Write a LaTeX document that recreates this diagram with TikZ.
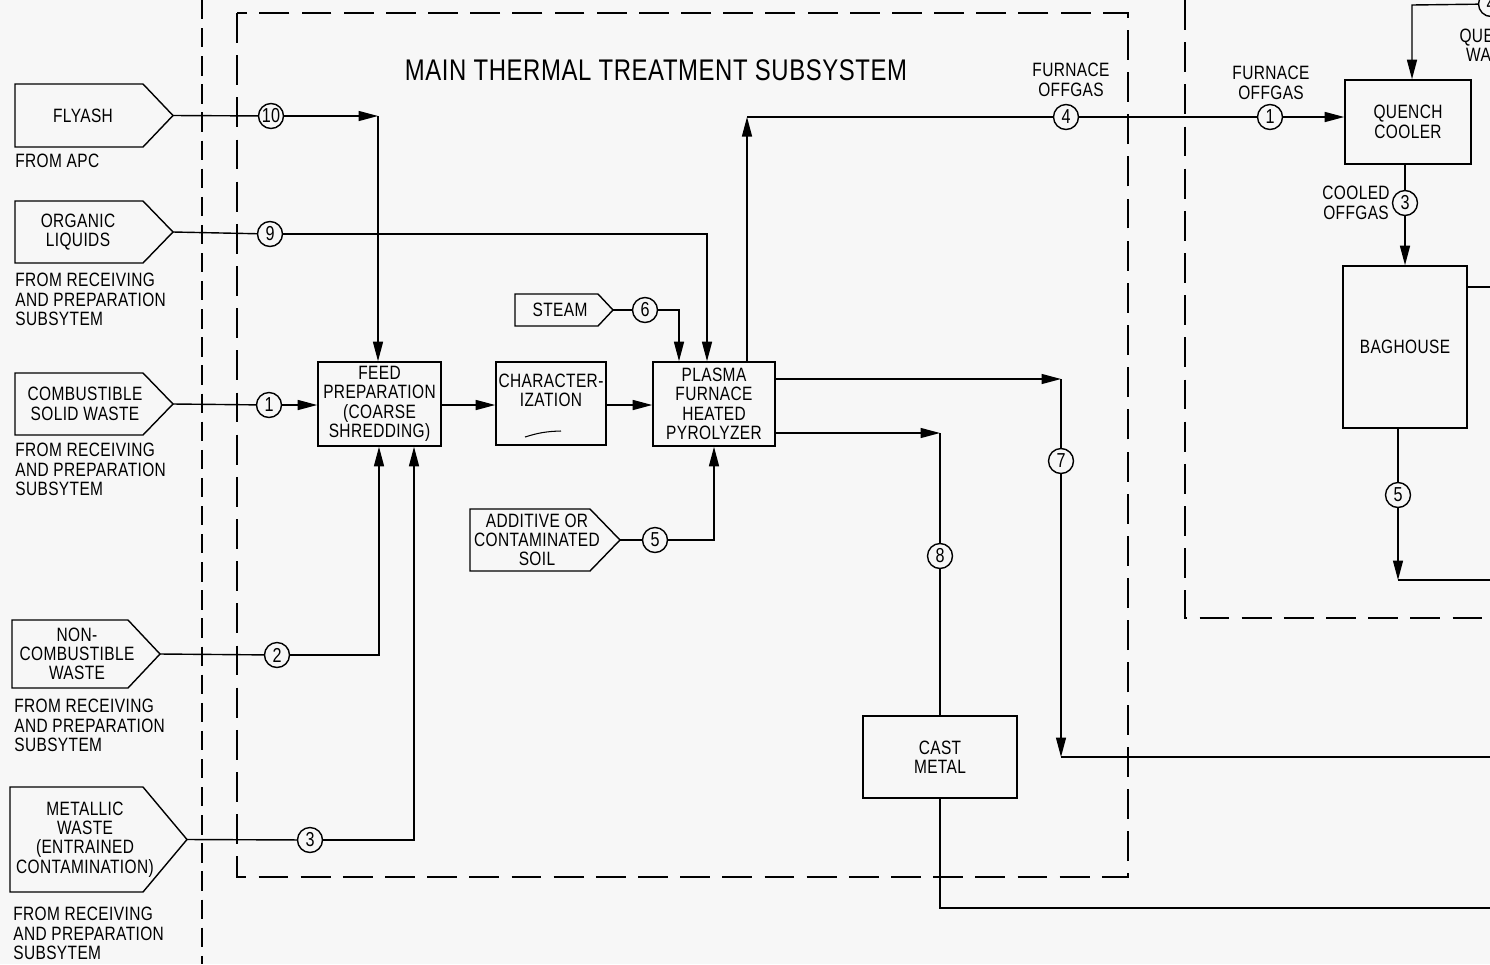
\documentclass[tikz,border=0pt]{standalone}
\usepackage{fontspec}
\setmainfont{Liberation Sans}[FakeStretch=0.8,LetterSpace=2]
\usetikzlibrary{arrows.meta,calc}
\definecolor{paper}{RGB}{247,247,247}
\tikzset{
  box/.style={draw=black,line width=0.9pt,align=center,inner sep=0pt,font=\fontsize{11}{11}\selectfont},
  src/.style={draw=black,line width=0.8pt},                   % source pentagon
  lbl/.style={align=center,inner sep=0pt,font=\fontsize{11}{11}\selectfont},
  note/.style={align=left,inner sep=0pt,anchor=north west,font=\fontsize{11}{11}\selectfont},
  num/.style={circle,draw=black,line width=0.8pt,inner sep=0pt,minimum size=0.5cm,font=\fontsize{11.5}{11}\selectfont},
  pipe/.style={line width=0.8pt},
  arr/.style={-{Triangle[length=3.9mm,width=2mm]},line width=0.8pt},
  sub/.style={line width=0.9pt,dash pattern=on 17pt off 7pt},
  bnd/.style={line width=0.8pt,dash pattern=on 11pt off 5pt},
}
% name, left x, top y, rect right x, tip x, bottom y, text x, text
\newcommand{\srcbox}[8]{%
  \draw[src] (#2,#3) -- (#4,#3) -- (#5,{(#3+#6)/2}) -- (#4,#6) -- (#2,#6) -- cycle;
  \node[lbl] (#1) at (#7,{(#3+#6)/2}) {#8};
  \coordinate (#1-tip) at (#5,{(#3+#6)/2});
}

\begin{document}
\begin{tikzpicture}[x=0.02cm,y=-0.02cm]
  \fill[paper] (0,0) rectangle (1490,964);
  \useasboundingbox (0,0) rectangle (1490,964);

  % boundaries
  \draw[bnd] (202,0) -- (202,964);
  \draw[sub] (237,13) rectangle (1128,877);
  \draw[sub] (1185,0) -- (1185,618) -- (1490,618);
  \node[lbl,font=\fontsize{17}{20}\selectfont] (title) at (656,70) {MAIN THERMAL TREATMENT SUBSYSTEM};

  % sources
  \srcbox{flyash}{15}{84}{143}{173}{147}{83}{FLYASH}
  \srcbox{organic}{15}{201}{143}{173}{263}{78}{ORGANIC\\LIQUIDS}
  \srcbox{comb}{15}{373}{143}{173}{435}{85}{COMBUSTIBLE\\SOLID WASTE}
  \srcbox{noncomb}{12}{620}{128}{160}{688}{77}{NON-\\COMBUSTIBLE\\WASTE}
  \srcbox{metal}{10}{787}{143}{187}{892}{85}{METALLIC\\WASTE\\(ENTRAINED\\CONTAMINATION)}
  \srcbox{steam}{515}{294}{598}{613}{326}{560}{STEAM}
  \srcbox{additive}{470}{509}{590}{620}{571}{537}{ADDITIVE OR\\CONTAMINATED\\SOIL}

  \node[lbl,anchor=west] (fromapc) at (15,161) {FROM APC};
  \node[note] (fromorg) at (15,273) {FROM RECEIVING\\AND PREPARATION\\SUBSYTEM};
  \node[note] (fromcomb) at (15,443) {FROM RECEIVING\\AND PREPARATION\\SUBSYTEM};
  \node[note] (fromnon) at (14,699) {FROM RECEIVING\\AND PREPARATION\\SUBSYTEM};
  \node[note] (frommetal) at (13,907) {FROM RECEIVING\\AND PREPARATION\\SUBSYTEM};

  % process boxes
  \node[box,minimum width=2.46cm,minimum height=1.68cm] (feed) at (379.5,404) {FEED\\PREPARATION\\(COARSE\\SHREDDING)};
  \node[box,minimum width=2.2cm,minimum height=1.66cm] (char) at (551,403.5) {CHARACTER-\\IZATION\\[4pt]};
  \draw[pipe,line width=0.6pt] (525,437) to[bend left=8] (561,431);
  \node[box,minimum width=2.44cm,minimum height=1.68cm] (plasma) at (714,404) {PLASMA\\FURNACE\\HEATED\\PYROLYZER};
  \node[box,minimum width=3.08cm,minimum height=1.64cm] (cast) at (940,757) {CAST\\METAL};
  \node[box,minimum width=2.52cm,minimum height=1.68cm] (quench) at (1408,122) {QUENCH\\COOLER};
  \node[box,minimum width=2.48cm,minimum height=3.24cm] (bag) at (1405,347) {BAGHOUSE};

  % stream numbers
  \node[num] (n10) at (271,116) {10};
  \node[num] (n9) at (270,234) {9};
  \node[num] (n1) at (269,405) {1};
  \node[num] (n2) at (277,655) {2};
  \node[num] (n3) at (310,840) {3};
  \node[num] (n6) at (645,310) {6};
  \node[num] (n5) at (655,540) {5};
  \node[num] (n8) at (940,556) {8};
  \node[num] (n7) at (1061,461) {7};
  \node[num] (n4) at (1066,117) {4};
  \node[num] (q1) at (1270,117) {1};
  \node[num] (q3) at (1405,203) {3};
  \node[num] (q5) at (1398,495) {5};
  \node[num] (q4) at (1491,4) {4};

  \node[lbl] (offgasa) at (1071,80) {FURNACE\\OFFGAS};
  \node[lbl] (offgasb) at (1271,83) {FURNACE\\OFFGAS};
  \node[lbl] (cooled) at (1356,203) {COOLED\\OFFGAS};
  \node[lbl] (qwater) at (1494,45) {QUENCH\\WATER};

  % corners and free ends
  \coordinate (c10) at (378,116);
  \coordinate (c9) at (707,234);
  \coordinate (c6) at (679,310);
  \coordinate (c2) at (379,655);
  \coordinate (c3) at (414,840);
  \coordinate (c5) at (714,540);
  \coordinate (c4) at (747,117);
  \coordinate (c7a) at (1061,379);
  \coordinate (c7b) at (1061,757);
  \coordinate (e7) at (1490,757);
  \coordinate (c8a) at (940,433);
  \coordinate (c8b) at (940,908);
  \coordinate (e8) at (1490,908);
  \coordinate (cq) at (1412,5);
  \coordinate (eb) at (1490,287);
  \coordinate (c5b) at (1398,580);
  \coordinate (e5b) at (1490,580);

  % feeds into the subsystem
  \draw[pipe] (flyash-tip) -- (n10);
  \draw[arr] (n10) -- (c10);
  \draw[arr] (c10) -- (c10 |- feed.north);
  \draw[pipe] (organic-tip) -- (n9);
  \draw[arr] (n9) -- (c9) -- (c9 |- plasma.north);
  \draw[pipe] (steam-tip) -- (n6);
  \draw[arr] (n6) -- (c6) -- (c6 |- plasma.north);
  \draw[pipe] (comb-tip) -- (n1);
  \draw[arr] (n1) -- (feed.west |- n1);
  \draw[pipe] (noncomb-tip) -- (n2);
  \draw[arr] (n2) -- (c2) -- (c2 |- feed.south);
  \draw[pipe] (metal-tip) -- (n3);
  \draw[arr] (n3) -- (c3) -- (c3 |- feed.south);
  \draw[pipe] (additive-tip) -- (n5);
  \draw[arr] (n5) -- (c5) -- (c5 |- plasma.south);
  \draw[arr] (feed.east |- 0,405) -- (char.west |- 0,405);
  \draw[arr] (char.east |- 0,405) -- (plasma.west |- 0,405);

  % products
  \draw[arr] (c4 |- plasma.north) -- (c4);
  \draw[pipe] (c4) -- (n4);
  \draw[pipe] (n4) -- (q1);
  \draw[arr] (q1) -- (quench.west |- q1);
  \draw[arr] (plasma.east |- c7a) -- (c7a);
  \draw[pipe] (c7a) -- (n7);
  \draw[arr] (n7) -- (c7b);
  \draw[pipe] (c7b) -- (e7);
  \draw[arr] (plasma.east |- c8a) -- (c8a);
  \draw[pipe] (c8a) -- (n8) -- (cast.north);
  \draw[pipe] (cast.south) -- (c8b) -- (e8);

  % offgas train
  \draw[arr] (q4) -- (cq) -- (cq |- quench.north);
  \draw[pipe] (q3 |- quench.south) -- (q3);
  \draw[arr] (q3) -- (q3 |- bag.north);
  \draw[pipe] (bag.east |- eb) -- (eb);
  \draw[pipe] (q5 |- bag.south) -- (q5);
  \draw[arr] (q5) -- (c5b);
  \draw[pipe] (c5b) -- (e5b);
\end{tikzpicture}
\end{document}
